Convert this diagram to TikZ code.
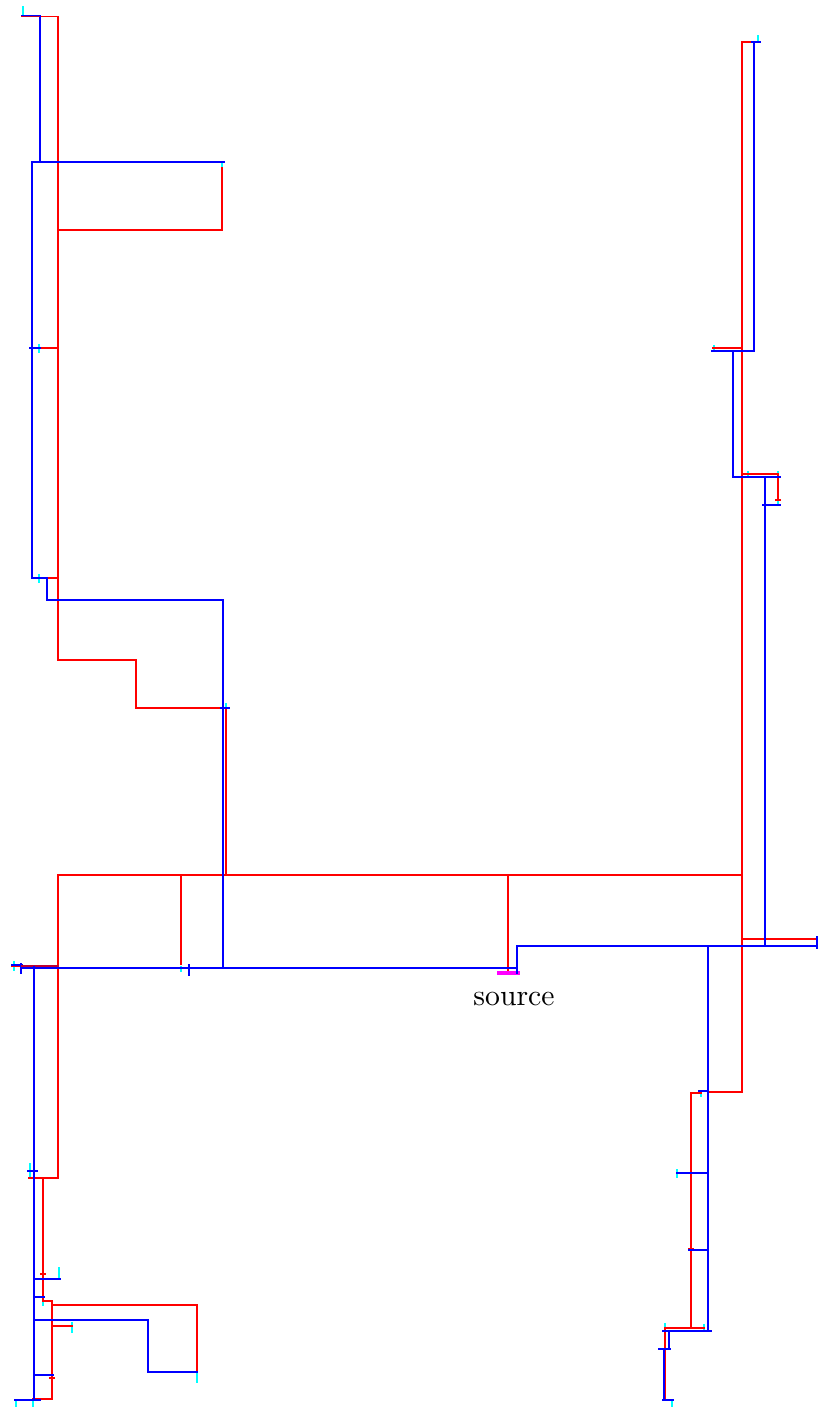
\documentclass[tikz,border=0pt]{standalone}
\usepackage{xcolor}
\usepackage{tikz}
\definecolor{wireRed}{RGB}{255,0,0}
\definecolor{wireBlue}{RGB}{0,0,255}
\definecolor{wireMix}{RGB}{190,0,50}
\definecolor{sinkCyan}{RGB}{0,255,255}
\definecolor{srcMagenta}{RGB}{255,0,255}
\tikzset{
  trunk/.style={line width=0.6pt, line cap=rect},
  redwire/.style={trunk, draw=wireRed},
  bluewire/.style={trunk, draw=wireBlue},
  mixwire/.style={trunk, draw=wireMix},
  heavywire/.style={bluewire, line width=0.8pt},
  sinkmark/.style={line width=0.65pt, draw=sinkCyan},
  sourcebar/.style={line width=1.4pt, draw=srcMagenta},
  sourcetag/.style={font=\normalsize, inner sep=0pt}
}
\begin{document}
\begin{tikzpicture}[x=0.3367pt, y=-0.3367pt]
  \useasboundingbox (0,0) rectangle (821,1407);
  % sink marks
  \foreach \x/\ya/\yb in {23/6/16, 222/162/172, 39/344/353, 39/574/583, 226/703/710, 14/961/971,
    181/966/972, 758/35/42, 714/345/350, 748/471/477, 778/471/477, 778/500/505, 701/1093/1097,
    677/1169/1178, 704/1324/1331, 665/1323/1328, 672/1400/1407, 30/1163/1178, 59/1267/1279,
    43/1302/1306, 72/1322/1333, 197/1372/1383, 16/1400/1407, 33/1400/1407}
    \draw[sinkmark] (\x,\ya) -- (\x,\yb);
  % red tree, left
  \draw[redwire] (22,16.5) -- (58.1,16.5) -- (58.1,660) -- (136,660) -- (136,708) -- (226,708) -- (226,875);
  \draw[redwire] (58.1,230) -- (222,230) -- (222,168);
  \draw[redwire] (39,348) -- (58.1,348);
  \draw[redwire] (39,578) -- (58.1,578);
  \draw[redwire] (58.1,1178) -- (58.1,875) -- (742,875);
  \draw[redwire] (181,875) -- (181,964);
  \draw[redwire] (508,875) -- (508,973);
  \draw[redwire] (12,966) -- (58.1,966);
  \draw[redwire] (29,1178) -- (58.1,1178);
  \draw[redwire] (43,1178) -- (43,1301) -- (52,1301) -- (52,1399) -- (33,1399);
  \draw[redwire] (52,1305) -- (197,1305) -- (197,1372);
  \draw[redwire] (52,1326) -- (72,1326);
  \draw[redwire] (40.5,1274) -- (45.5,1274);
  \draw[redwire] (49.5,1378) -- (54.5,1378);
  % red tree, right
  \draw[redwire] (758,42) -- (742.1,42) -- (742.1,1092) -- (709,1092);
  \draw[redwire] (713,348) -- (742.1,348);
  \draw[redwire] (742.1,474) -- (778,474) -- (778,500);
  \draw[redwire] (775.5,500) -- (780.5,500);
  \draw[redwire] (742.1,939) -- (817,939);
  \draw[redwire] (701,1093) -- (691,1093) -- (691,1328);
  \draw[redwire] (688.5,1249) -- (693.5,1249);
  \draw[redwire] (704,1328) -- (665,1328) -- (665,1400) -- (672,1400);
  % blue tree, left
  \draw[bluewire] (22,15.5) -- (40,15.5) -- (40,162);
  \draw[mixwire] (23,16.5) -- (39,16.5);
  \draw[bluewire] (224,162) -- (32,162) -- (32,578) -- (47,578) -- (47,600) -- (223,600) -- (223,967);
  \draw[bluewire] (30,348) -- (40,348);
  \draw[bluewire] (221,708) -- (229,708);
  \draw[bluewire] (12,965) -- (22,965);
  \draw[bluewire] (21,964) -- (21,973);
  \draw[mixwire] (22,966) -- (58,966);
  \draw[heavywire] (21,967.8) -- (517,967.8);
  \draw[bluewire] (189,965) -- (189,975);
  \draw[bluewire] (34,967) -- (34,1400);
  \draw[bluewire] (28,1171) -- (37,1171);
  \draw[bluewire] (34,1279) -- (60,1279);
  \draw[bluewire] (34,1297) -- (44,1297);
  \draw[bluewire] (34,1320) -- (148,1320) -- (148,1372) -- (197,1372);
  \draw[bluewire] (34,1375) -- (53,1375);
  \draw[bluewire] (15,1400) -- (40,1400);
  % source
  \draw[sourcebar] (497,973) -- (520,973);
  \node[sourcetag] (source) at (514,999) {source};
  % blue tree, right
  \draw[bluewire] (517,973) -- (517,946) -- (817,946);
  \draw[bluewire] (817,937) -- (817,948);
  \draw[bluewire] (752,42) -- (760,42);
  \draw[bluewire] (754,42) -- (754,351);
  \draw[bluewire] (712,351) -- (754,351);
  \draw[bluewire] (733,351) -- (733,477);
  \draw[bluewire] (733,477) -- (780,477);
  \draw[bluewire] (765,477) -- (765,946);
  \draw[bluewire] (763,505) -- (780,505);
  \draw[heavywire] (708,946) -- (708,1331);
  \draw[bluewire] (699,1091) -- (708,1091);
  \draw[bluewire] (677,1173) -- (708,1173);
  \draw[bluewire] (689,1250) -- (708,1250);
  \draw[bluewire] (663,1331) -- (711,1331);
  \draw[bluewire] (669,1331) -- (669,1349);
  \draw[bluewire] (659,1349) -- (670,1349);
  \draw[heavywire] (664,1349) -- (664,1400);
  \draw[bluewire] (663,1400) -- (673,1400);
\end{tikzpicture}
\end{document}
